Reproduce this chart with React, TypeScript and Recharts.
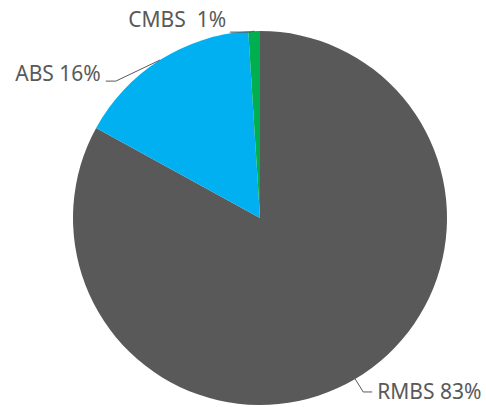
import React from 'react';
import { PieChart, Pie, Cell } from 'recharts';

const categories = ['RMBS', 'ABS', 'CMBS'];
const shares = [83, 16, 1];
const labelTexts = ['RMBS 83%', 'ABS 16%', 'CMBS  1%'];
const colors = ['#595959', '#00b0f0', '#00b050'];

// leader line shape per slice: elbow offset, tail length, text offset
const leaders = [
  { ex: 8, ey: 13, tail: 9, tx: 5, ty: 7 },
  { ex: -44, ey: 21, tail: -10, tx: -5, ty: 0 },
  { ex: -4, ey: 1, tail: -20, tx: -4, ty: -5 },
];

const data = categories.map((name, i) => ({ name, value: shares[i], label: labelTexts[i] }));

const RADIAN = Math.PI / 180;

const renderLabel = (props: any) => {
  const { cx, cy, midAngle, outerRadius, index } = props;
  const l = leaders[index];
  const x0 = cx + outerRadius * Math.cos(-midAngle * RADIAN);
  const y0 = cy + outerRadius * Math.sin(-midAngle * RADIAN);
  const x1 = x0 + l.ex;
  const y1 = y0 + l.ey;
  const x2 = x1 + l.tail;
  const anchor = l.tail < 0 ? 'end' : 'start';
  return (
    <g>
      <polyline points={`${x0},${y0} ${x1},${y1} ${x2},${y1}`} fill="none" stroke="#595959" strokeWidth={1} />
      <text
        x={x2 + l.tx}
        y={y1 + l.ty}
        textAnchor={anchor}
        fill="#595959"
        fontSize={21}
        fontFamily="'Noto Sans', sans-serif"
        style={{ whiteSpace: 'pre' }}
      >
        {data[index].label}
      </text>
    </g>
  );
};

const App: React.FC = () => {
  return (
    <div style={{ position: 'absolute', left: 0, top: 0, background: '#fff' }}>
      <PieChart width={486} height={407} margin={{ top: 0, right: 0, bottom: 0, left: 0 }}>
        <Pie
          data={data}
          dataKey="value"
          nameKey="name"
          cx={260}
          cy={218}
          outerRadius={187}
          startAngle={90}
          endAngle={-270}
          stroke="none"
          label={renderLabel}
          labelLine={false}
          isAnimationActive={false}
        >
          {data.map((d, i) => (
            <Cell key={d.name} fill={colors[i]} />
          ))}
        </Pie>
      </PieChart>
    </div>
  );
};

export default App;
